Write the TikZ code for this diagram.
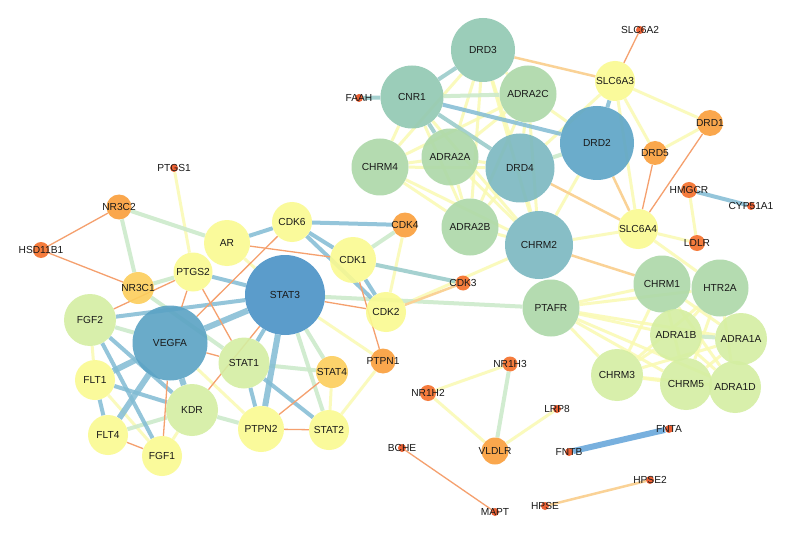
\documentclass[tikz,border=0pt]{standalone}
\usepackage{fontspec}
\setmainfont{Liberation Sans}
\usetikzlibrary{backgrounds}
\definecolor{cStat}{RGB}{74,146,198}
\definecolor{cVeg}{RGB}{90,162,196}
\definecolor{cDrdtwo}{RGB}{92,164,198}
\definecolor{cDrdfour}{RGB}{122,184,192}
\definecolor{cTeal}{RGB}{145,200,178}
\definecolor{cGreen}{RGB}{172,216,168}
\definecolor{cLgreen}{RGB}{212,238,162}
\definecolor{cYellow}{RGB}{250,250,145}
\definecolor{cYorange}{RGB}{252,206,92}
\definecolor{cOrange}{RGB}{250,158,58}
\definecolor{cRed}{RGB}{245,110,40}
\definecolor{cDot}{RGB}{235,80,30}
\definecolor{eBlue}{RGB}{130,188,212}
\definecolor{eTeal}{RGB}{150,202,200}
\definecolor{eGreen}{RGB}{205,234,203}
\definecolor{eYellow}{RGB}{250,250,178}
\definecolor{eOrange}{RGB}{245,160,110}
\definecolor{eOy}{RGB}{250,210,150}
\definecolor{eFnt}{RGB}{120,176,222}
\definecolor{txt}{RGB}{25,25,25}
\tikzset{
  nd/.style 2 args={circle, fill=#2, fill opacity=0.9, draw=none, minimum size=#1pt, inner sep=0pt,
    label={[text=txt, text opacity=1, font=\fontsize{10.2}{12}\selectfont]center:\nodelabel}},
  bt/.style={draw=eBlue, line width=6pt, opacity=0.85},
  bm/.style={draw=eBlue, line width=4pt, opacity=0.85},
  tm/.style={draw=eTeal, line width=4pt, opacity=0.85},
  gm/.style={draw=eGreen, line width=4pt, opacity=0.9},
  ym/.style={draw=eYellow, line width=3pt, opacity=0.85},
  ot/.style={draw=eOrange, line width=1.3pt},
  oy/.style={draw=eOy, line width=2.5pt},
}
\newcommand{\gn}[5]{\def\nodelabel{#1}\node[nd={#4}{#5}] (#2) at #3 {};}
\begin{document}
\begin{tikzpicture}[x=1pt,y=-1pt]
\useasboundingbox (0,0) rectangle (792,540);
% top cluster
\gn{DRD3}{DRD3}{(483,50)}{64}{cTeal}
\gn{CNR1}{CNR1}{(412,97)}{63}{cTeal}
\gn{ADRA2C}{ADRA2C}{(528,94)}{57}{cGreen}
\gn{DRD2}{DRD2}{(597,143)}{74}{cDrdtwo}
\gn{CHRM4}{CHRM4}{(380,167)}{57}{cGreen}
\gn{ADRA2A}{ADRA2A}{(450,157)}{57}{cGreen}
\gn{DRD4}{DRD4}{(520,168)}{69}{cDrdfour}
\gn{ADRA2B}{ADRA2B}{(470,227)}{57}{cGreen}
\gn{CHRM2}{CHRM2}{(539,245)}{68}{cDrdfour}
\gn{SLC6A3}{SLC6A3}{(615,81)}{40}{cYellow}
\gn{SLC6A2}{SLC6A2}{(640,30)}{8}{cDot}
\gn{FAAH}{FAAH}{(359,98)}{8}{cDot}
\gn{DRD1}{DRD1}{(710,123)}{26}{cOrange}
\gn{DRD5}{DRD5}{(655,153)}{24}{cOrange}
\gn{HMGCR}{HMGCR}{(689,190)}{16}{cRed}
\gn{CYP51A1}{CYP51A1}{(751,206)}{8}{cDot}
\gn{LDLR}{LDLR}{(697,243)}{16}{cRed}
\gn{SLC6A4}{SLC6A4}{(638,229)}{40}{cYellow}
% left cluster
\gn{PTGS1}{PTGS1}{(174,168)}{8}{cDot}
\gn{NR3C2}{NR3C2}{(119,207)}{25}{cOrange}
\gn{HSD11B1}{HSD11B1}{(41,250)}{16}{cRed}
\gn{NR3C1}{NR3C1}{(138,288)}{32}{cYorange}
\gn{AR}{AR}{(227,243)}{46}{cYellow}
\gn{CDK6}{CDK6}{(292,222)}{40}{cYellow}
\gn{CDK4}{CDK4}{(405,225)}{25}{cOrange}
\gn{CDK1}{CDK1}{(353,260)}{46}{cYellow}
\gn{PTGS2}{PTGS2}{(193,272)}{39}{cYellow}
\gn{STAT3}{STAT3}{(285,295)}{80}{cStat}
\gn{CDK3}{CDK3}{(463,283)}{15}{cRed}
\gn{CDK2}{CDK2}{(386,312)}{40}{cYellow}
\gn{FGF2}{FGF2}{(90,320)}{52}{cLgreen}
\gn{VEGFA}{VEGFA}{(170,343)}{75}{cVeg}
\gn{STAT1}{STAT1}{(244,363)}{51}{cLgreen}
\gn{STAT4}{STAT4}{(332,372)}{32}{cYorange}
\gn{PTPN1}{PTPN1}{(383,361)}{25}{cOrange}
\gn{FLT1}{FLT1}{(95,380)}{40}{cYellow}
\gn{KDR}{KDR}{(192,410)}{52}{cLgreen}
\gn{PTPN2}{PTPN2}{(261,429)}{46}{cYellow}
\gn{STAT2}{STAT2}{(329,430)}{40}{cYellow}
\gn{FLT4}{FLT4}{(108,435)}{40}{cYellow}
\gn{FGF1}{FGF1}{(162,456)}{40}{cYellow}
% right cluster
\gn{PTAFR}{PTAFR}{(551,308)}{57}{cGreen}
\gn{CHRM1}{CHRM1}{(662,284)}{57}{cGreen}
\gn{HTR2A}{HTR2A}{(720,288)}{57}{cGreen}
\gn{ADRA1B}{ADRA1B}{(676,335)}{52}{cLgreen}
\gn{ADRA1A}{ADRA1A}{(741,339)}{52}{cLgreen}
\gn{CHRM3}{CHRM3}{(617,375)}{52}{cLgreen}
\gn{CHRM5}{CHRM5}{(686,384)}{52}{cLgreen}
\gn{ADRA1D}{ADRA1D}{(735,387)}{52}{cLgreen}
% bottom
\gn{NR1H3}{NR1H3}{(510,364)}{15}{cRed}
\gn{NR1H2}{NR1H2}{(428,393)}{16}{cRed}
\gn{LRP8}{LRP8}{(557,409)}{8}{cDot}
\gn{VLDLR}{VLDLR}{(495,451)}{27}{cOrange}
\gn{BCHE}{BCHE}{(402,448)}{8}{cDot}
\gn{MAPT}{MAPT}{(495,512)}{8}{cDot}
\gn{FNTA}{FNTA}{(669,429)}{8}{cDot}
\gn{FNTB}{FNTB}{(569,452)}{8}{cDot}
\gn{HPSE}{HPSE}{(545,506)}{8}{cDot}
\gn{HPSE2}{HPSE2}{(650,480)}{8}{cDot}
\begin{scope}[on background layer]
\fill[white] (0,0) rectangle (792,540);
% yellow edges
\foreach \a/\b in {PTGS1/PTGS2, AR/STAT3, FGF2/FLT1, FLT1/FGF1, FGF1/KDR, VEGFA/PTPN2,
  STAT4/STAT2, STAT2/PTPN1, STAT3/PTPN1, CDK4/CDK2, CDK2/CHRM2,
  DRD3/ADRA2A, DRD3/ADRA2B, DRD3/DRD4, DRD3/CHRM2, DRD3/CHRM4, DRD3/ADRA2C,
  ADRA2C/ADRA2A, ADRA2C/ADRA2B, ADRA2C/CHRM2, ADRA2C/CHRM4, ADRA2C/DRD4,
  CNR1/CHRM4, CNR1/ADRA2B, CNR1/CHRM2,
  ADRA2A/CHRM4, ADRA2A/ADRA2B, ADRA2A/DRD4, ADRA2A/CHRM2,
  CHRM4/ADRA2B, CHRM4/CHRM2, CHRM4/DRD4, DRD4/CHRM2, DRD4/ADRA2B, ADRA2B/CHRM2,
  ADRA2C/DRD2, CHRM2/DRD2, SLC6A3/DRD4,
  SLC6A3/DRD1, SLC6A3/DRD5, SLC6A3/SLC6A4, DRD1/DRD5, CHRM2/SLC6A4, SLC6A4/LDLR,
  SLC6A4/HTR2A, HMGCR/LDLR,
  PTAFR/CHRM1, PTAFR/HTR2A, PTAFR/ADRA1B, PTAFR/ADRA1A, PTAFR/CHRM3, PTAFR/CHRM5, PTAFR/ADRA1D,
  CHRM1/ADRA1B, CHRM1/CHRM3, CHRM1/CHRM5, CHRM1/ADRA1A, CHRM1/ADRA1D,
  HTR2A/ADRA1B, HTR2A/ADRA1A, HTR2A/CHRM3, HTR2A/ADRA1D, HTR2A/CHRM5,
  CHRM3/CHRM5, CHRM3/ADRA1B, CHRM3/ADRA1A, CHRM3/ADRA1D, CHRM5/ADRA1A,
  ADRA1B/ADRA1D, CHRM5/ADRA1B, CHRM5/ADRA1D, ADRA1A/ADRA1D,
  NR1H2/NR1H3, NR1H2/VLDLR, VLDLR/LRP8}
  \draw[ym] (\a) -- (\b);
% green edges
\foreach \a/\b in {NR3C2/NR3C1, NR3C2/AR, NR3C1/PTGS2, NR3C1/STAT1, FGF2/VEGFA, FLT4/KDR,
  KDR/PTPN2, STAT1/STAT4, STAT3/STAT2, STAT3/STAT4, CDK1/CDK4, STAT3/PTAFR,
  CNR1/ADRA2C, ADRA1B/ADRA1A, NR1H3/VLDLR, DRD4/DRD2}
  \draw[gm] (\a) -- (\b);
% teal edges
\foreach \a/\b in {FAAH/CNR1, CNR1/DRD3, CNR1/DRD4, CNR1/ADRA2A, CDK1/CDK3}
  \draw[tm] (\a) -- (\b);
% blue medium
\foreach \a/\b in {AR/CDK6, CDK6/CDK4, CDK6/CDK1, CDK1/CDK2, CDK6/CDK2, PTGS2/STAT3,
  FGF2/STAT3, FGF2/KDR, FGF2/FGF1, FLT1/FLT4, FLT1/KDR, STAT1/PTPN2, STAT1/STAT2,
  STAT3/STAT1, CNR1/DRD2, DRD2/SLC6A3, HMGCR/CYP51A1}
  \draw[bm] (\a) -- (\b);
% blue thick
\foreach \a/\b in {VEGFA/STAT3, VEGFA/FLT1, VEGFA/FLT4, VEGFA/KDR, STAT3/PTPN2}
  \draw[bt] (\a) -- (\b);
\draw[draw=eFnt, line width=6pt] (FNTB) -- (FNTA);
% orange-yellow
\foreach \a/\b in {DRD3/SLC6A3, DRD2/SLC6A4, DRD4/SLC6A4, CDK2/CDK3, CHRM2/CHRM1, HPSE/HPSE2}
  \draw[oy] (\a) -- (\b);
% orange thin
\foreach \a/\b in {NR3C2/HSD11B1, HSD11B1/NR3C1, AR/CDK1, CDK6/VEGFA, PTGS2/VEGFA, PTGS2/STAT1,
  PTGS2/FGF2, VEGFA/FGF1, VEGFA/STAT1, STAT3/KDR, STAT3/CDK2, STAT4/PTPN2, PTPN2/STAT2,
  FLT4/FGF1, CDK1/PTPN1, SLC6A3/SLC6A2, DRD1/SLC6A4, DRD5/SLC6A4, BCHE/MAPT}
  \draw[ot] (\a) -- (\b);
\end{scope}
\end{tikzpicture}
\end{document}
